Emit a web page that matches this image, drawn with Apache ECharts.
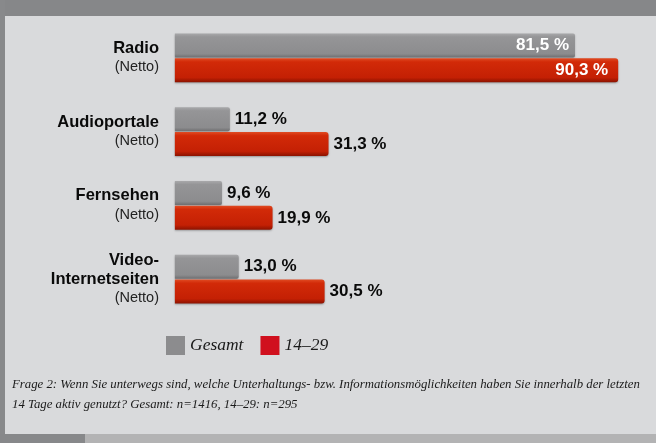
<!DOCTYPE html>
<html><head><meta charset="utf-8">
<script src="https://cdn.jsdelivr.net/npm/echarts@6/dist/echarts.min.js"></script>
<style>html,body{margin:0;padding:0;background:#d9dadc}#c{width:656px;height:443px}</style>
</head><body><div id="c"></div>
<script>
const categories = ['Radio', 'Audioportale', 'Fernsehen', 'Video-\nInternetseiten'];
const subLabel = '(Netto)';
const seriesNames = ['Gesamt', '14–29'];
const gesamt = [81.5, 11.2, 9.6, 13.0];
const jung = [90.3, 31.3, 19.9, 30.5];
const footnote = 'Frage 2: Wenn Sie unterwegs sind, welche Unterhaltungs- bzw. Informationsmöglichkeiten haben Sie innerhalb der letzten\n14 Tage aktiv genutzt? Gesamt: n=1416, 14–29: n=295';

const fmt = v => v.toFixed(1).replace('.', ',') + ' %';
const grayGrad = {type:'linear',x:0,y:0,x2:0,y2:1,colorStops:[
  {offset:0,color:'#a9a9ab'},{offset:0.15,color:'#959597'},{offset:0.85,color:'#8c8c8e'},{offset:1,color:'#6f6f71'}]};
const redGrad = {type:'linear',x:0,y:0,x2:0,y2:1,colorStops:[
  {offset:0,color:'#e04a22'},{offset:0.15,color:'#d22a08'},{offset:0.8,color:'#c42004'},{offset:1,color:'#8a1200'}]};

function mkData(arr, insideIdx, dist) {
  return arr.map((v, i) => i === insideIdx
    ? {value: v, label: {position: 'insideRight', color: '#fff', distance: dist}}
    : v);
}

const chart = echarts.init(document.getElementById('c'), null, {renderer: 'canvas'});
chart.setOption({
  backgroundColor: '#d9dadc',
  animation: false,
  graphic: [
    {type:'rect', shape:{x:0,y:0,width:656,height:16}, style:{fill:'#868789'}, z:-10},
    {type:'rect', shape:{x:0,y:0,width:5,height:443}, style:{fill:'#88898b'}, z:-10},
    {type:'rect', shape:{x:0,y:434,width:656,height:9}, style:{fill:'#b3b3b4'}, z:-10},
    {type:'rect', shape:{x:0,y:434,width:85,height:9}, style:{fill:'#87888a'}, z:-9},
    {type:'text', left: 12, top: 375, style:{text: footnote, font:'italic 12.8px "Liberation Serif"', fill:'#1a1a1a', lineHeight: 20}}
  ],
  legend: {
    left: 166, top: 336, padding: 0,
    itemWidth: 19, itemHeight: 19, itemGap: 17,
    icon: 'rect',
    textStyle: {fontFamily: 'Liberation Serif', fontStyle: 'italic', fontSize: 17.5, color: '#1a1a1a'},
    data: [
      {name: seriesNames[0], itemStyle: {color: '#8c8c8e'}},
      {name: seriesNames[1], itemStyle: {color: '#d0101e'}}
    ]
  },
  grid: {left: 167, right: 0, top: 21, height: 295},
  xAxis: {type: 'value', min: -1.6, max: 98, show: false},
  yAxis: {
    type: 'category', inverse: true, data: categories,
    axisLine: {show: false}, axisTick: {show: false},
    axisLabel: {
      margin: 8, align: 'right',
      formatter: v => v.split('\n').map(s => '{b|' + s + '}').join('\n') + '\n{n|' + subLabel + '}',
      rich: {
        b: {fontFamily: 'Liberation Sans', fontWeight: 'bold', fontSize: 16.5, color: '#0a0a0a', lineHeight: 19, align: 'right'},
        n: {fontFamily: 'Liberation Sans', fontSize: 14.5, color: '#222', lineHeight: 19, align: 'right'}
      }
    }
  },
  series: [
    {
      name: seriesNames[0], type: 'bar', barWidth: 24, barGap: '4%',
      data: mkData(gesamt, 0, 6),
      itemStyle: {color: grayGrad, borderRadius: [0, 2, 2, 0], shadowColor: 'rgba(0,0,0,0.25)', shadowBlur: 2, shadowOffsetY: 1},
      label: {show: true, position: 'right', distance: 5, formatter: p => fmt(p.value),
        fontFamily: 'Liberation Sans', fontWeight: 'bold', fontSize: 17, color: '#0a0a0a'}
    },
    {
      name: seriesNames[1], type: 'bar', barWidth: 24,
      data: mkData(jung, 0, 10),
      itemStyle: {color: redGrad, borderRadius: [0, 3, 3, 0], shadowColor: 'rgba(0,0,0,0.3)', shadowBlur: 2, shadowOffsetY: 1},
      label: {show: true, position: 'right', distance: 5, formatter: p => fmt(p.value),
        fontFamily: 'Liberation Sans', fontWeight: 'bold', fontSize: 17, color: '#0a0a0a'}
    }
  ]
});
</script></body></html>
